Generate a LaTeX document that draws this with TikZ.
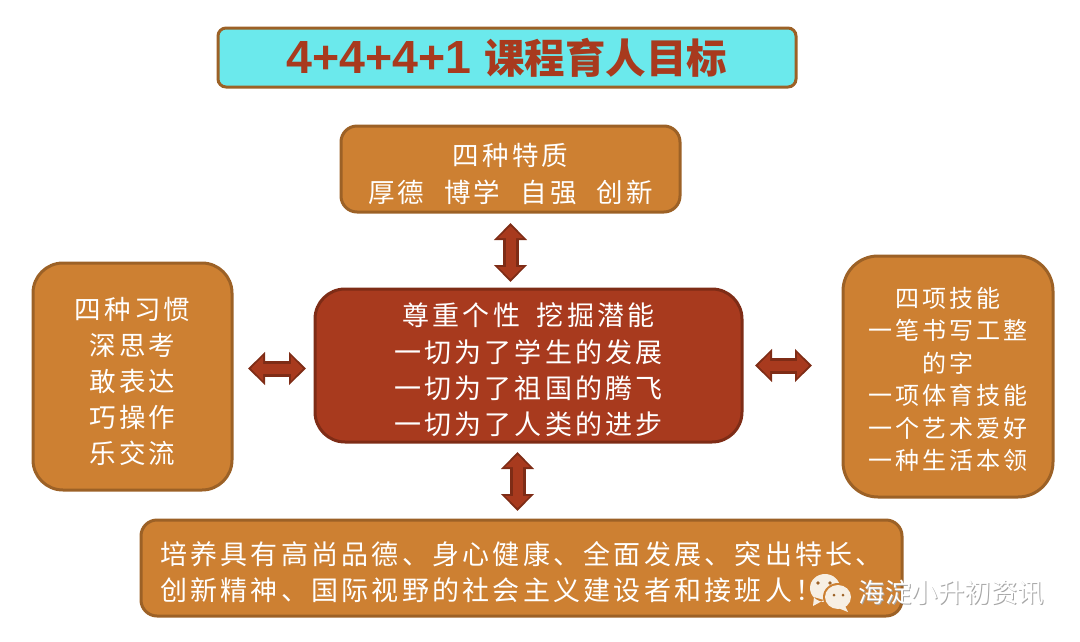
\documentclass[tikz,border=0pt]{standalone}
\usepackage{fontspec}
\usetikzlibrary{arrows.meta}
\newfontfamily\cjk[LetterSpace=12]{Noto Sans CJK SC}
\newfontfamily\cjkplain{Noto Sans CJK SC}
\newfontfamily\arialbd{Liberation Sans}
\definecolor{skybox}{HTML}{6BE9EC}
\definecolor{ochre}{HTML}{CD8032}
\definecolor{ochreline}{HTML}{9C6126}
\definecolor{brick}{HTML}{A83A1E}
\definecolor{brickline}{HTML}{7E2C16}
\definecolor{cream}{HTML}{F7EFE4}
\newcommand{\nudge}{\rule{0pt}{32pt}}
\tikzset{
  ochrebox/.style={draw=ochreline, fill=ochre, line width=3pt, text=white, align=center, inner ysep=0pt},
  bigarrow/.style 2 args={brick, line width=10pt,
    shorten <=#1pt+3pt, shorten >=#2pt+3pt,
    {Triangle[length=12pt,width=24pt]}-{Triangle[length=12pt,width=24pt]},
    preaction={draw, brickline, line width=16pt,
      shorten <=#1pt, shorten >=#2pt,
      {Triangle[length=17pt,width=32pt]}-{Triangle[length=17pt,width=32pt]}}}
}
\begin{document}
\begin{tikzpicture}[x=1pt, y=-1pt]
  \useasboundingbox (0,0) rectangle (1080,641);
  % title and boxes
  \node[draw=ochreline, fill=skybox, line width=3pt, rounded corners=8pt,
    minimum width=578pt, minimum height=59pt] (title) at (507,57.5)
    {\color{brick}\bfseries\arialbd\fontsize{46.5}{50}\selectfont 4+4+4+1 \cjkplain\fontsize{40.5}{50}\selectfont 课程育人目标};
  \node[ochrebox, rounded corners=16pt, minimum width=339pt, minimum height=86pt,
    font=\cjk\fontsize{26.5}{37}\selectfont] (top) at (510.5,169)
    {\nudge 四种特质\\厚德\hspace{20pt}博学\hspace{20pt}自强\hspace{20pt}创新};
  \node[ochrebox, rounded corners=30pt, minimum width=199pt, minimum height=227pt,
    font=\cjk\fontsize{26.5}{36}\selectfont] (left) at (132.5,376.5)
    {\nudge 四种习惯\\深思考\\敢表达\\巧操作\\乐交流};
  \node[ochrebox, draw=brickline, fill=brick, rounded corners=30pt, minimum width=427pt,
    minimum height=153pt, font=\cjk\fontsize{27}{36.3}\selectfont] (center) at (528.5,365.5)
    {\nudge 尊重个性\hspace{17pt}挖掘潜能\\一切为了学生的发展\\一切为了祖国的腾飞\\一切为了人类的进步};
  \node[ochrebox, rounded corners=35pt, minimum width=210pt, minimum height=241pt,
    font=\cjk\fontsize{24}{32.5}\selectfont] (right) at (948,376.5)
    {\rule{0pt}{26pt}四项技能\\一笔书写工整\\的字\\一项体育技能\\一个艺术爱好\\一种生活本领};
  \node[ochrebox, align=left, rounded corners=16pt, minimum width=761pt, minimum height=96pt,
    font=\cjk\fontsize{27}{36}\selectfont] (bottom) at (521.5,568)
    {\nudge 培养具有高尚品德、身心健康、全面发展、突出特长、\\创新精神、国际视野的社会主义建设者和接班人！};
  % arrows
  \draw[bigarrow={9.5}{5.5}] (top.south) -- (top.south |- center.north);
  \draw[bigarrow={14.5}{7.5}] ([yshift=-3pt]center.west -| left.east) -- ([yshift=-3pt]center.west);
  \draw[bigarrow={11.5}{29.5}] (center.east) -- (center.east -| right.west);
  \draw[bigarrow={8.5}{7.5}] ([xshift=-11pt]center.south) -- ([xshift=-11pt]center.south |- bottom.north);
  % watermark
  \fill[cream] (825,588) ellipse (15 and 14) (814,597) -- (813,606) -- (824,600) -- cycle;
  \fill[ochre] (838,597) ellipse (15 and 14);
  \fill[cream] (838,597) ellipse (13 and 12) (845,606) -- (848,612) -- (838,608) -- cycle;
  \foreach \x/\y/\r in {818/583/1.8, 830/583/1.8, 834/595/1.5, 843/595/1.5}
    \fill[ochreline] (\x,\y) circle (\r);
  \node[text=gray!70, font=\cjkplain\fontsize{26.5}{30}\selectfont, inner sep=0pt] (markshadow) at (952.5,594)
    {海淀小升初资讯};
  \node[text=white, font=\cjkplain\fontsize{26.5}{30}\selectfont, inner sep=0pt] (mark) at (951.5,593)
    {海淀小升初资讯};
\end{tikzpicture}
\end{document}
